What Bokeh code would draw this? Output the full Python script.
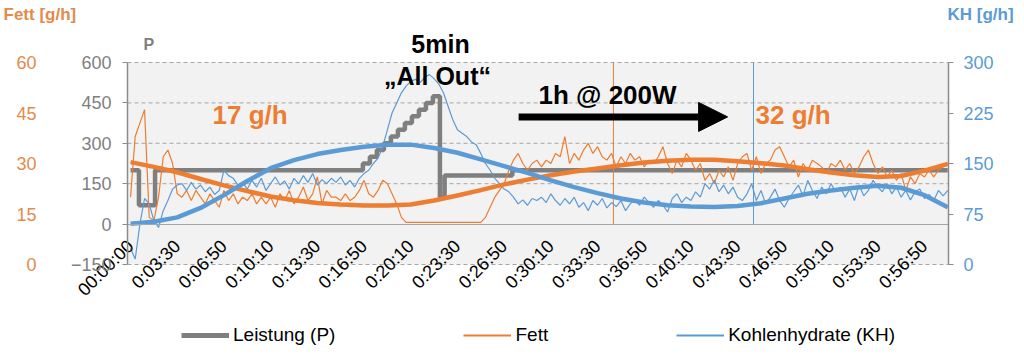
import math
from bokeh.plotting import figure
from bokeh.models import (Range1d, LinearAxis, FixedTicker, Label, Arrow, NormalHead,
                          Legend, LegendItem)
from bokeh.embed import file_html
from bokeh.resources import INLINE

FONT = "Liberation Sans"
ORANGE = "#ED7D31"
ORANGE_TXT = "#E38B4C"
BLUE = "#5B9BD5"
GRAY = "#7F7F7F"

# ---------------- data ----------------
tick_seconds = list(range(0, 3401, 200))
tick_labels = ["00:00:00", "0:03:30", "0:06:50", "0:10:10", "0:13:30", "0:16:50",
               "0:20:10", "0:23:30", "0:26:50", "0:30:10", "0:33:30", "0:36:50",
               "0:40:10", "0:43:30", "0:46:50", "0:50:10", "0:53:30", "0:56:50"]

p_ticks = [-150, 0, 150, 300, 450, 600]
grid_values = [-150, 150, 300, 450, 600]
fett_ticks = [0, 15, 30, 45, 60]
kh_ticks = [0, 75, 150, 225, 300]

# power (Leistung) as step changes: time [s], watts
p_time = [0, 36, 105, 995, 1025, 1055, 1085, 1115, 1145, 1175, 1205, 1235, 1265, 1295,
          1325, 1345, 1635, 3500]
p_watt = [200, 70, 200, 225, 250, 275, 300, 325, 350, 375, 400, 425, 450, 475,
          100, 180, 200, 200]

# raw samples every 20 s
sample_seconds = list(range(0, 3501, 20))
fett = [20, 38, 42, 46, 14, 13, 20, 32, 34, 30, 21, 20, 22, 19, 22, 20, 18, 21, 19, 17,
        22, 19, 21, 18, 20, 19, 21, 18, 20, 18, 20, 17, 21, 19, 22, 18, 20, 23, 19, 21,
        26, 18, 22, 20,
        20, 19, 21, 19, 20, 22, 25, 21, 20, 22, 25, 24, 21, 18, 14, 12.5,
        12.5, 12.5, 12.5, 12.5, 12.5, 12.5, 12.5, 12.5, 12.5, 12.5, 12.5, 12.5, 12.5, 12.5,
        12.5, 12.5,
        14, 17, 20, 22, 24, 28, 31, 33, 30, 28, 30, 31,
        29, 31, 30, 33, 32, 38, 30, 33, 31, 34, 36, 33, 35, 32, 31, 33, 29, 32, 30, 33,
        31, 32, 29, 31, 30, 32, 35, 30, 27, 31, 29, 33, 31, 28, 30, 25, 27, 24, 28, 26,
        29, 25, 30, 32,
        33, 28, 32, 27, 30, 31, 34, 35, 32, 29, 31, 26, 30, 28, 31, 30, 29, 27, 30, 29,
        31, 28, 30, 27, 29, 32, 34, 30, 27, 29, 26, 28, 25, 27, 22, 26, 24, 27, 26, 28,
        26, 28, 29, 30]
kh = [24, 8, 60, 98, 90, 65, 55, 80, 95, 112, 118, 120, 110, 122, 112, 118, 108, 115, 104, 110,
      140, 132, 128, 118, 122, 112, 125, 115, 128, 110, 120, 130, 118, 124, 112, 128, 120, 132,
      122, 135, 118, 126, 120, 128,
      122, 130, 118, 125, 115, 128, 135, 140, 150, 158, 175, 200, 225, 240, 255, 265, 272, 275,
      270, 278, 282, 276, 268, 255, 235, 215, 200, 195, 190, 182, 178, 165, 150, 140, 128, 120,
      112, 108, 100, 90, 96, 88, 98, 95,
      100, 92, 105, 95, 88, 98, 90, 100, 85, 92, 80, 95, 88, 98, 84, 92, 86, 95, 80, 90,
      96, 88, 100, 92, 85, 95, 88, 78, 98, 105, 92, 100, 95, 108, 100, 120, 112, 125, 108, 118,
      105, 115, 100, 95,
      105, 120, 95, 110, 90, 100, 112, 95, 85, 98, 108, 118, 102, 125, 110, 98, 115, 105, 120, 108,
      115, 100, 112, 95, 118, 102, 110, 125, 115, 108, 120, 105, 115, 100, 110, 96, 108, 112, 98, 104,
      95, 110, 102, 110]

# trend lines read every 100 s
trend_seconds = list(range(0, 3501, 100))
fett_trend = [30.4, 29.0, 27.4, 25.4, 23.5, 21.8, 20.2, 19.1, 18.3, 17.8, 17.5, 17.5, 17.8,
              19.0, 20.5, 22.1, 23.8, 25.2, 26.5, 27.6, 28.5, 29.5, 30.3, 30.8, 31.1, 31.1,
              30.7, 30.1, 29.4, 28.3, 27.3, 26.5, 26.0, 26.3, 27.9, 29.9]
kh_trend = [60.4, 63.5, 70, 84, 103, 124, 143, 155, 164, 170, 175, 178, 178, 173, 166, 156,
            146, 136, 125, 115, 106, 98, 92, 88, 86, 85.5, 87, 91, 98, 105, 110, 114, 117,
            114, 103, 85]

marker_seconds = [2068, 2668]
marker_colors = [ORANGE, BLUE]

legend_labels = ["Leistung (P)", "Fett", "Kohlenhydrate (KH)"]

# ---------------- layout: plot area inside a full-canvas frame ----------------
W, H = 1024, 357
PX_L, PX_R, PX_T, PX_B = 127, 948, 62, 264
X_LO, X_HI = -13, 3503
P_LO, P_HI = -150, 600
F_LO, F_HI = 0, 60
K_LO, K_HI = 0, 300


def xfull(lo, hi):
    s = (hi - lo) / (PX_R - PX_L)
    return Range1d(lo - PX_L * s, hi + (W - PX_R) * s)


def yfull(lo, hi):
    s = (hi - lo) / (PX_B - PX_T)
    return Range1d(lo - (H - PX_B) * s, hi + PX_T * s)


p = figure(width=W, height=H, output_backend="svg", toolbar_location=None,
           x_range=xfull(X_LO, X_HI), y_range=yfull(P_LO, P_HI), min_border=0)
p.extra_y_ranges = {"fett": yfull(F_LO, F_HI), "kh": yfull(K_LO, K_HI)}
p.background_fill_color = "white"
p.border_fill_color = "white"
p.outline_line_color = None
p.xgrid.visible = False
p.ygrid.visible = False

# plot-area background and dashed grid
p.quad(left=[X_LO], right=[X_HI], bottom=[P_LO], top=[P_HI], fill_color="#F2F2F2",
       line_color=None)
p.segment(x0=[X_LO] * len(grid_values), x1=[X_HI] * len(grid_values), y0=grid_values,
          y1=grid_values, line_color="#A6A6A6", line_dash="4 3", line_width=1)

# x axis at P = 0
xa = p.xaxis[0]
xa.fixed_location = 0
xa.bounds = (X_LO, X_HI)
xa.ticker = FixedTicker(ticks=tick_seconds)
xa.major_label_overrides = dict(zip(tick_seconds, tick_labels))
xa.major_label_orientation = math.pi / 4
xa.axis_line_color = "#A6A6A6"
xa.axis_line_width = 1.2
xa.major_tick_line_color = None
xa.major_tick_out = 0
xa.minor_tick_line_color = None
xa.major_label_standoff = 19
xa.major_label_text_font = FONT
xa.major_label_text_font_size = "18px"
xa.major_label_text_color = "black"

# P axis
ya = p.yaxis[0]
ya.fixed_location = X_LO
ya.bounds = (P_LO, P_HI)
ya.ticker = FixedTicker(ticks=p_ticks)
ya.axis_line_color = "#8C8C8C"
ya.axis_line_width = 1.5
ya.major_tick_line_color = "#8C8C8C"
ya.major_tick_out = 5
ya.major_tick_in = 0
ya.minor_tick_line_color = None
ya.major_label_standoff = 11
ya.major_label_text_font = FONT
ya.major_label_text_font_size = "18px"
ya.major_label_text_color = "#808080"

# Fett axis (labels only)
fa = LinearAxis(y_range_name="fett", ticker=FixedTicker(ticks=fett_ticks),
                fixed_location=X_LO, bounds=(F_LO, F_HI))
fa.axis_line_color = None
fa.major_tick_line_color = None
fa.major_tick_out = 0
fa.minor_tick_line_color = None
fa.major_label_standoff = 91
fa.major_label_text_font = FONT
fa.major_label_text_font_size = "18px"
fa.major_label_text_color = ORANGE_TXT
p.add_layout(fa, "left")

# KH axis
ka = LinearAxis(y_range_name="kh", ticker=FixedTicker(ticks=kh_ticks),
                fixed_location=X_HI, bounds=(K_LO, K_HI))
ka.axis_line_color = "#8C8C8C"
ka.axis_line_width = 1.5
ka.major_tick_line_color = "#8C8C8C"
ka.major_tick_out = 5
ka.major_tick_in = 0
ka.minor_tick_line_color = None
ka.major_label_standoff = 10
ka.major_label_text_font = FONT
ka.major_label_text_font_size = "18px"
ka.major_label_text_color = BLUE
p.add_layout(ka, "right")

# ---------------- glyphs ----------------
p.step(p_time, p_watt, mode="after", line_color=GRAY, line_width=4.5)
p.segment(x0=marker_seconds, y0=[0] * len(marker_seconds), x1=marker_seconds,
          y1=[P_HI] * len(marker_seconds), line_color=marker_colors, line_width=1)
p.line(sample_seconds, fett, y_range_name="fett", line_color=ORANGE, line_width=1.2)
p.line(sample_seconds, kh, y_range_name="kh", line_color=BLUE, line_width=1.2)
p.line(trend_seconds, fett_trend, y_range_name="fett", line_color=ORANGE, line_width=4.5,
       line_join="round")
p.line(trend_seconds, kh_trend, y_range_name="kh", line_color=BLUE, line_width=4.5,
       line_join="round")

# legend swatch renderers: zero-length lines at the plot corner (invisible in the plot)
corner_x = [X_LO, X_LO]
corner_y = [P_LO, P_LO]
lg_p = p.line(corner_x, corner_y, line_color=GRAY, line_width=5)
lg_f = p.line(corner_x, corner_y, line_color=ORANGE, line_width=1.8)
lg_k = p.line(corner_x, corner_y, line_color=BLUE, line_width=1.8)


# ---------------- annotations (screen px from bottom-left) ----------------
def lab(x, y, text, size, color, align="left"):
    p.add_layout(Label(x=x, y=y, x_units="screen", y_units="screen", text=text,
                       text_font=FONT, text_font_size=size, text_font_style="bold",
                       text_color=color, text_align=align, text_baseline="alphabetic"))


lab(440, 314, "5min", "25px", "black", align="center")
lab(437, 282, "\u201eAll Out\u201c", "25px", "black", align="center")
lab(538, 263, "1h @ 200W", "26px", "black")
lab(212, 243, "17 g/h", "26px", ORANGE)
lab(755, 243, "32 g/h", "26px", ORANGE)
lab(143, 313, "P", "16px", GRAY)
lab(3, 343, "Fett [g/h]", "17px", ORANGE_TXT)
lab(947, 343, "KH [g/h]", "17px", BLUE)

p.add_layout(Arrow(end=NormalHead(size=29, fill_color="black", line_color="black"),
                   x_start=1662, y_start=398, x_end=2557, y_end=398,
                   line_width=7, line_color="black"))

legend = Legend(items=[LegendItem(label=legend_labels[0], renderers=[lg_p]),
                       LegendItem(label=legend_labels[1], renderers=[lg_f]),
                       LegendItem(label=legend_labels[2], renderers=[lg_k])],
                orientation="horizontal", location=(181, 11), spacing=128,
                glyph_width=48, glyph_height=20, label_height=20, label_standoff=4,
                padding=0, margin=0,
                background_fill_alpha=0, border_line_color=None,
                label_text_font=FONT, label_text_font_size="19px",
                label_text_color="black")
p.add_layout(legend)

open("out.html", "w").write(file_html(p, INLINE))
